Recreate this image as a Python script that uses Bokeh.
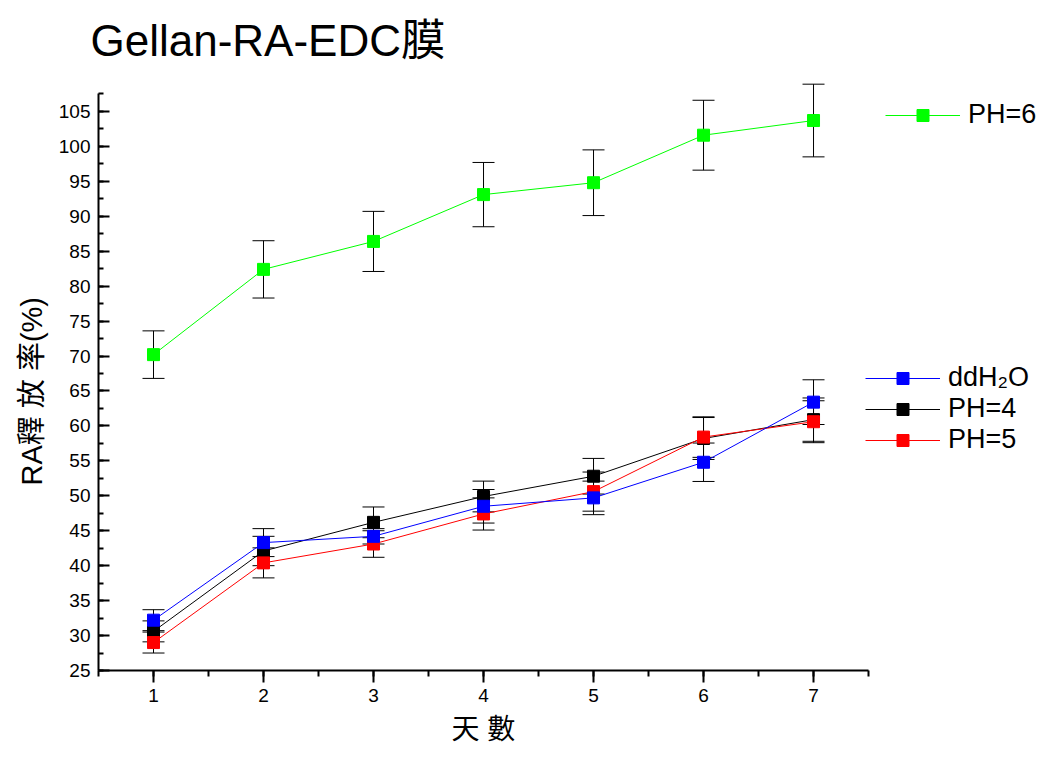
from bokeh.plotting import figure
from bokeh.models import (ColumnDataSource, Whisker, TeeHead, Legend, LegendItem,
                          SingleIntervalTicker, Range1d, Title)
from bokeh.embed import file_html
from bokeh.resources import INLINE

# Release of RA from Gellan-RA-EDC film over 7 days
days = [1, 2, 3, 4, 5, 6, 7]

ph6 = [70.2, 82.4, 86.4, 93.1, 94.8, 101.6, 103.7]
ph6_err = [3.4, 4.1, 4.3, 4.6, 4.7, 5.0, 5.2]

ddh2o = [32.2, 43.3, 44.2, 48.5, 49.7, 54.8, 63.4]
ddh2o_err = [1.5, 2.0, 1.1, 2.4, 2.4, 2.75, 3.2]

ph4 = [30.6, 42.1, 46.2, 49.9, 52.8, 58.2, 60.9]
ph4_err = [1.5, 2.1, 2.2, 2.2, 2.55, 3.0, 3.1]

ph5 = [29.0, 40.4, 43.1, 47.4, 50.6, 58.4, 60.6]
ph5_err = [1.5, 2.15, 1.9, 2.3, 2.8, 2.9, 3.0]

SANS = "Liberation Sans, Noto Sans CJK TC"

p = figure(width=1048, height=758, output_backend="svg", toolbar_location=None,
           x_range=Range1d(0.5, 9.136), y_range=Range1d(25, 110),
           min_border_left=98, min_border_right=0, min_border_top=76,
           min_border_bottom=88)

p.title.text = "Gellan-RA-EDC膜"
p.title.text_font = SANS
p.title.text_font_size = "44px"
p.title.text_font_style = "normal"
p.title.text_color = "black"
p.title.align = "left"
p.title.offset = -8
p.title.standoff = 24

p.xgrid.visible = False
p.ygrid.visible = False
p.outline_line_color = None
p.background_fill_color = "white"
p.border_fill_color = "white"

# axes: the drawn spine stops at the last tick, the frame runs on to hold the legend
xa = p.xaxis[0]
xa.bounds = (0.5, 7.5)
xa.ticker = SingleIntervalTicker(interval=1, num_minor_ticks=2)
xa.major_tick_in = 0
xa.major_tick_out = 12
xa.minor_tick_in = 0
xa.minor_tick_out = 6

ya = p.yaxis[0]
ya.bounds = (25, 107.5)
ya.ticker = SingleIntervalTicker(interval=5, num_minor_ticks=2)
ya.major_tick_in = 11
ya.major_tick_out = 0
ya.minor_tick_in = 5
ya.minor_tick_out = 0

for ax in (xa, ya):
    ax.axis_line_width = 2
    ax.axis_line_color = "black"
    ax.major_tick_line_width = 2
    ax.minor_tick_line_width = 2
    ax.major_tick_line_color = "black"
    ax.minor_tick_line_color = "black"
    ax.major_label_text_font = SANS
    ax.major_label_text_font_size = "19px"
    ax.major_label_text_color = "black"

xa.major_label_standoff = 6
ya.major_label_standoff = 8

# axis titles, placed along the drawn spines rather than the whole frame
p.add_layout(Title(text="天 數", align="left", offset=353, standoff=15,
                   text_line_height=0.7,
                   text_font=SANS, text_font_size="28px",
                   text_font_style="normal", text_color="black"), "below")
p.add_layout(Title(text="RA釋 放 率(%)", align="left", offset=185, standoff=15,
                   text_line_height=0.7,
                   text_font=SANS, text_font_size="29px",
                   text_font_style="normal", text_color="black"), "left")


def series(vals, errs, color):
    src = ColumnDataSource(dict(
        x=days, y=vals,
        upper=[v + e for v, e in zip(vals, errs)],
        lower=[v - e for v, e in zip(vals, errs)],
    ))
    ln = p.line("x", "y", source=src, line_color=color, line_width=1)
    wh = Whisker(source=src, base="x", upper="upper", lower="lower",
                 line_color="black", line_width=1,
                 upper_head=TeeHead(size=22, line_color="black", line_width=1),
                 lower_head=TeeHead(size=22, line_color="black", line_width=1))
    p.add_layout(wh)
    return ln, src


l6, s6src = series(ph6, ph6_err, "#00ff00")
l4, s4src = series(ph4, ph4_err, "black")
l5, s5src = series(ph5, ph5_err, "red")
lw, swsrc = series(ddh2o, ddh2o_err, "blue")

m6 = p.scatter("x", "y", source=s6src, marker="square", size=12,
               fill_color="#00ff00", line_color="#00ff00")
m4 = p.scatter("x", "y", source=s4src, marker="square", size=12,
               fill_color="black", line_color="black")
m5 = p.scatter("x", "y", source=s5src, marker="square", size=12,
               fill_color="red", line_color="red")
mw = p.scatter("x", "y", source=swsrc, marker="square", size=12,
               fill_color="blue", line_color="blue")


def legend(items, loc):
    lg = Legend(items=items, location=loc, glyph_width=75, glyph_height=30,
                label_height=30, label_text_font=SANS, label_text_color="black",
                label_text_font_size="27px", label_standoff=8, padding=0,
                spacing=0, margin=0, border_line_alpha=0,
                background_fill_alpha=0)
    p.add_layout(lg)


legend([LegendItem(label="PH=6", renderers=[l6, m6])], (787, 540))
legend([LegendItem(label="ddH₂O", renderers=[lw, mw]),
        LegendItem(label="PH=4", renderers=[l4, m4]),
        LegendItem(label="PH=5", renderers=[l5, m5])], (767, 215))

open("out.html", "w").write(file_html(p, INLINE))
